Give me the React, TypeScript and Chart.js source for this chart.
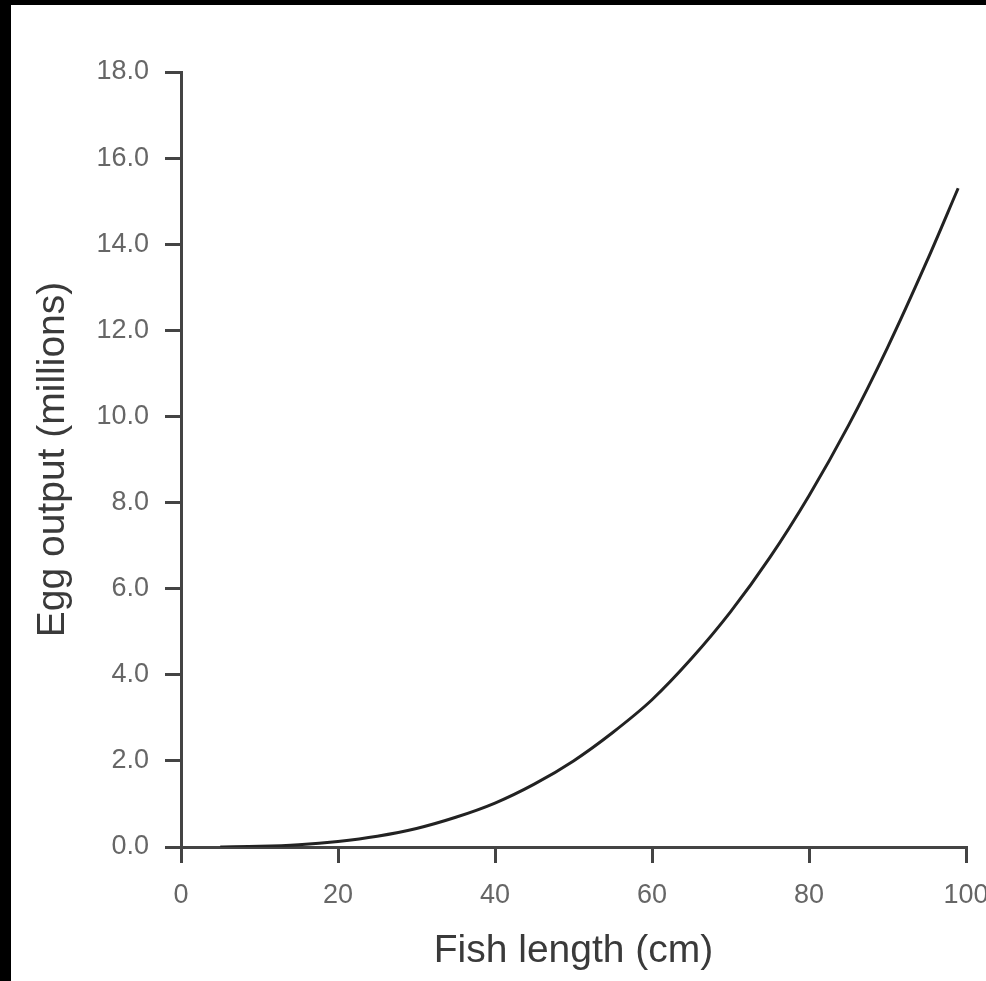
import React, { useEffect, useRef } from "react";
import { Chart, registerables } from "chart.js";

Chart.register(...registerables);

// Fish length (cm)
const fishLength = [5, 10, 15, 20, 25, 30, 35, 40, 45, 50, 55, 60, 65, 70, 75, 80, 85, 90, 95, 99];
// Egg output (millions)
const eggOutput = [0.002, 0.016, 0.054, 0.13, 0.25, 0.43, 0.69, 1.02, 1.46, 2.0, 2.66, 3.42, 4.37, 5.46, 6.72, 8.16, 9.78, 11.6, 13.6, 15.3];

const xTicks = [0, 20, 40, 60, 80, 100];
const yTicks = [0, 2, 4, 6, 8, 10, 12, 14, 16, 18];
const yTickLabels = ["0.0", "2.0", "4.0", "6.0", "8.0", "10.0", "12.0", "14.0", "16.0", "18.0"];

const xTitle = "Fish length (cm)";
const yTitle = "Egg output (millions)";

const FONT = "'Liberation Sans', Arial, Helvetica, sans-serif";

export default function App() {
  const ref = useRef<HTMLCanvasElement | null>(null);

  useEffect(() => {
    if (!ref.current) return;
    const chart = new Chart(ref.current, {
      type: "scatter",
      data: {
        datasets: [
          {
            data: fishLength.map((x, i) => ({ x, y: eggOutput[i] })),
            showLine: true,
            borderColor: "#222",
            borderWidth: 3,
            pointRadius: 0,
            cubicInterpolationMode: "monotone",
          },
        ],
      },
      options: {
        animation: false,
        responsive: false,
        devicePixelRatio: 1,
        layout: { padding: { top: 67, right: 20, left: 0, bottom: 0 } },
        plugins: { legend: { display: false }, tooltip: { enabled: false } },
        scales: {
          x: {
            type: "linear",
            min: 0,
            max: 100,
            afterBuildTicks: (s: any) => {
              s.ticks = xTicks.map((v) => ({ value: v }));
            },
            afterFit: (s: any) => {
              s.height = 134;
              s.paddingLeft = 0;
              s.paddingRight = 0;
            },
            grid: {
              display: true,
              drawOnChartArea: false,
              drawTicks: true,
              tickLength: 16,
              color: "#444",
              lineWidth: 3,
            },
            border: { display: true, color: "#444", width: 3 },
            ticks: {
              color: "#666",
              padding: 16,
              maxRotation: 0,
              autoSkip: false,
              font: { family: FONT, size: 27 },
              callback: (v: any) => String(v),
            },
            title: {
              display: true,
              text: xTitle,
              color: "#3a3a3a",
              font: { family: FONT, size: 39 },
              padding: { top: 0, bottom: 6 },
            },
          },
          y: {
            type: "linear",
            min: 0,
            max: 18,
            afterBuildTicks: (s: any) => {
              s.ticks = yTicks.map((v) => ({ value: v }));
            },
            afterFit: (s: any) => {
              s.width = 170;
              s.paddingTop = 0;
              s.paddingBottom = 0;
            },
            grid: {
              display: true,
              drawOnChartArea: false,
              drawTicks: true,
              tickLength: 16,
              color: "#444",
              lineWidth: 3,
            },
            border: { display: true, color: "#444", width: 3 },
            ticks: {
              color: "#666",
              padding: 16,
              autoSkip: false,
              font: { family: FONT, size: 27 },
              callback: (v: any) => {
                const i = yTicks.indexOf(Number(v));
                return i >= 0 ? yTickLabels[i] : "";
              },
            },
            title: {
              display: true,
              text: yTitle,
              color: "#3a3a3a",
              font: { family: FONT, size: 39 },
              padding: { top: 19, bottom: 0 },
            },
          },
        },
      },
    } as any);
    return () => chart.destroy();
  }, []);

  return (
    <div style={{ position: "fixed", left: 0, top: 0, width: 986, height: 981, background: "#000", overflow: "hidden" }}>
      <div style={{ position: "absolute", left: 11, top: 5, width: 975, height: 976, background: "#fff" }}>
        <canvas ref={ref} width={975} height={976} style={{ display: "block", width: 975, height: 976 }} />
      </div>
    </div>
  );
}
